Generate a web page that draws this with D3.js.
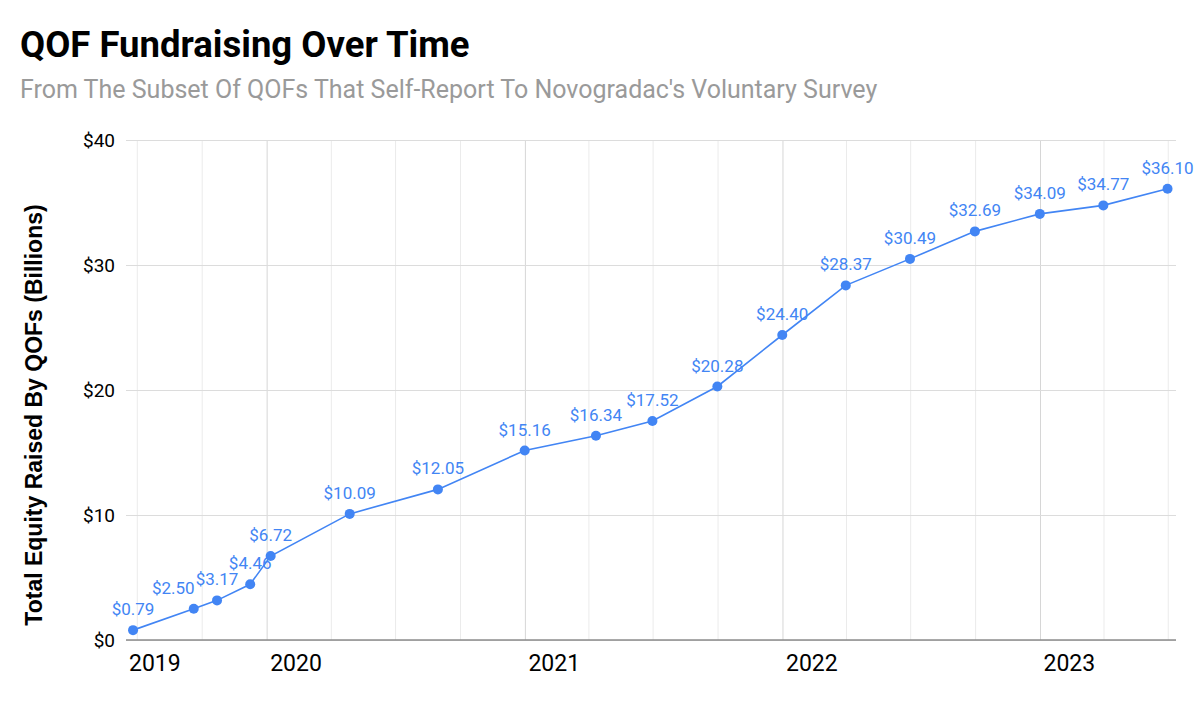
<!DOCTYPE html>
<html>
<head>
<meta charset="utf-8">
<script src="https://cdn.jsdelivr.net/npm/d3@7"></script>
<style>
  body { margin: 0; background: #fff; }
  svg { display: block; }
</style>
</head>
<body>
<div id="chart-area"></div>
<script>
// survey dates and cumulative equity raised (billions)
const dates = [
  '2019-06-25', '2019-09-19', '2019-10-22', '2019-12-08', '2020-01-06',
  '2020-04-27', '2020-08-30', '2020-12-31', '2021-04-11', '2021-06-30',
  '2021-09-30', '2021-12-31', '2022-03-31', '2022-06-30', '2022-09-30',
  '2022-12-31', '2023-03-31', '2023-06-30'
];
const values = [
  0.79, 2.50, 3.17, 4.46, 6.72,
  10.09, 12.05, 15.16, 16.34, 17.52,
  20.28, 24.40, 28.37, 30.49, 32.69,
  34.09, 34.77, 36.10
];
const yTicks = [0, 10, 20, 30, 40];
const yearLabels = ['2019', '2020', '2021', '2022', '2023'];

const title = 'QOF Fundraising Over Time';
const subtitle = "From The Subset Of QOFs That Self-Report To Novogradac's Voluntary Survey";
const yTitle = 'Total Equity Raised By QOFs (Billions)';

const widthSvg = 1200;
const heightSvg = 707;
const margin = { top: 140, right: 24, bottom: 67, left: 126 };
const blue = '#4285F4';

const parse = d3.timeParse('%Y-%m-%d');
const data = dates.map((d, i) => ({ date: parse(d), value: values[i] }));

const scaleX = d3.scaleTime()
  .domain([parse('2019-06-15'), parse('2023-07-12')])
  .range([margin.left, widthSvg - margin.right]);

const scaleY = d3.scaleLinear()
  .domain([0, 40])
  .range([heightSvg - margin.bottom, margin.top]);

const svg = d3.select('#chart-area')
  .append('svg')
    .attr('width', widthSvg)
    .attr('height', heightSvg);

svg.append('text')
  .attr('x', 20)
  .attr('y', 57)
  .attr('font-family', 'Roboto')
  .attr('font-weight', 700)
  .attr('font-size', 36.5)
  .attr('fill', '#000')
  .text(title);

svg.append('text')
  .attr('x', 20)
  .attr('y', 98)
  .attr('font-family', 'Roboto')
  .attr('font-size', 25)
  .attr('fill', '#9a9a9a')
  .text(subtitle);

// quarterly vertical grid, year lines a bit darker
const quarters = d3.timeMonth.every(3).range(scaleX.domain()[0], scaleX.domain()[1]);
svg.append('g')
  .selectAll('line')
  .data(quarters)
  .join('line')
    .attr('x1', d => scaleX(d))
    .attr('x2', d => scaleX(d))
    .attr('y1', scaleY(40))
    .attr('y2', scaleY(0))
    .attr('stroke', d => d.getMonth() === 0 ? '#d6d6d6' : '#ebebeb')
    .attr('stroke-width', 1);

// horizontal grid + y labels
const axisY = d3.axisLeft(scaleY)
  .tickValues(yTicks)
  .tickSize(-(widthSvg - margin.left - margin.right))
  .tickPadding(11)
  .tickFormat(d => '$' + d);

svg.append('g')
  .attr('transform', `translate(${margin.left},0)`)
  .call(axisY)
  .call(g => g.select('.domain').remove())
  .call(g => g.selectAll('.tick line').attr('stroke', '#dcdcdc'))
  .call(g => g.selectAll('.tick text')
    .attr('font-family', 'Roboto')
    .attr('font-size', 19)
    .attr('fill', '#000'));

// baseline
svg.append('line')
  .attr('x1', margin.left)
  .attr('x2', widthSvg - margin.right)
  .attr('y1', scaleY(0))
  .attr('y2', scaleY(0))
  .attr('stroke', '#8c8c8c')
  .attr('stroke-width', 1.5);

// year labels
svg.append('g')
  .selectAll('text')
  .data(yearLabels)
  .join('text')
    .attr('x', d => Math.max(scaleX(parse(d + '-01-01')), margin.left) + 3)
    .attr('y', 671)
    .attr('font-family', 'Roboto')
    .attr('font-size', 23)
    .attr('fill', '#000')
    .text(d => d);

// y axis title
svg.append('text')
  .attr('transform', `translate(42, ${(scaleY(0) + scaleY(40)) / 2 + 25}) rotate(-90)`)
  .attr('text-anchor', 'middle')
  .attr('font-family', 'Liberation Sans, Arial, sans-serif')
  .attr('font-weight', 700)
  .attr('font-size', 23)
  .attr('fill', '#000')
  .text(yTitle);

const line = d3.line()
  .x(d => scaleX(d.date))
  .y(d => scaleY(d.value));

svg.append('path')
  .datum(data)
  .attr('d', line)
  .attr('fill', 'none')
  .attr('stroke', blue)
  .attr('stroke-width', 1.6);

svg.append('g')
  .selectAll('circle')
  .data(data)
  .join('circle')
    .attr('cx', d => scaleX(d.date))
    .attr('cy', d => scaleY(d.value))
    .attr('r', 5)
    .attr('fill', blue);

// value labels, nudged left when they collide with the next one
const labels = svg.append('g')
  .selectAll('text')
  .data(data)
  .join('text')
    .attr('x', d => scaleX(d.date))
    .attr('y', d => scaleY(d.value) - 15)
    .attr('text-anchor', 'middle')
    .attr('font-family', 'Roboto')
    .attr('font-size', 17)
    .attr('fill', blue)
    .text(d => '$' + d.value.toFixed(2));

const nodes = labels.nodes();
for (let i = nodes.length - 2; i >= 0; i--) {
  const a = nodes[i].getBBox();
  const b = nodes[i + 1].getBBox();
  const capA = scaleY(data[i].value) - 15;
  const capB = scaleY(data[i + 1].value) - 15;
  const overlapY = Math.abs(capA - capB) < 12;
  const overlapX = a.x + a.width > b.x;
  if (overlapX && overlapY) {
    const shift = a.x + a.width - b.x + 1;
    d3.select(nodes[i]).attr('x', +nodes[i].getAttribute('x') - shift);
  }
}
</script>
</body>
</html>
